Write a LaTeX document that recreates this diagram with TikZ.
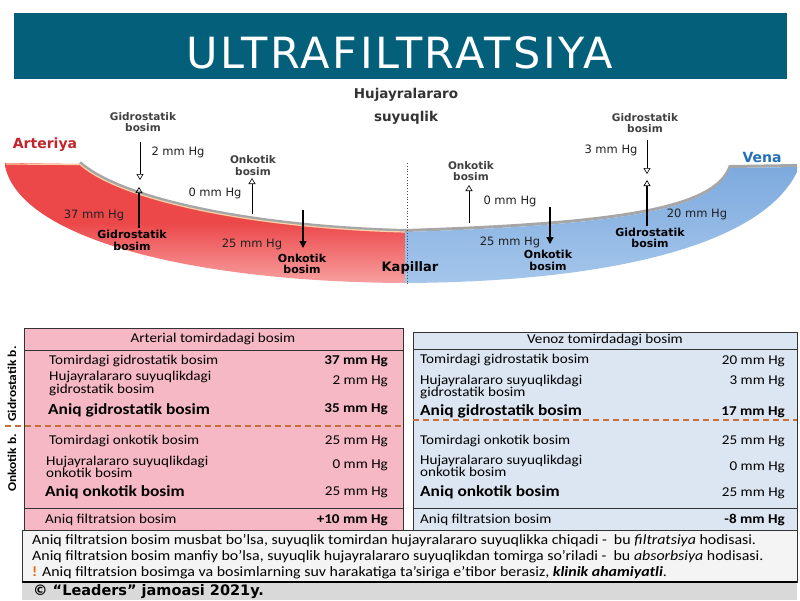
\documentclass[tikz,border=0pt]{standalone}
\usepackage{fontspec}
\setmainfont[FakeStretch=1.12]{Carlito}
\newfontfamily\dvs{DejaVu Sans}
\newfontfamily\ttlfont[LetterSpace=6]{DejaVu Sans}
\usetikzlibrary{arrows.meta}
\definecolor{titlebg}{HTML}{04607A}
\definecolor{pinkbg}{HTML}{F6B8C4}
\definecolor{bluebg}{HTML}{DCE6F2}
\definecolor{dashor}{HTML}{C8703C}
\definecolor{artred}{HTML}{C0262C}
\definecolor{venablue}{HTML}{2470B8}
\definecolor{exclam}{HTML}{E36C0A}
\definecolor{notebg}{HTML}{F4F4F4}
\definecolor{footbg}{HTML}{D9D9D9}
\definecolor{lblgray}{HTML}{202020}
\definecolor{redtop}{RGB}{236,72,74}
\definecolor{redbot}{RGB}{248,160,160}
\definecolor{bluetop}{RGB}{125,170,222}
\definecolor{bluebot}{RGB}{165,198,235}
\begin{document}
\begin{tikzpicture}[x=1pt,y=-1pt,
  lbltop/.style={font=\dvs\bfseries\fontsize{10.5}{11.5}\selectfont, align=center, inner sep=0, text=black!75},
  lblbot/.style={font=\dvs\bfseries\fontsize{11}{11.5}\selectfont, align=center, inner sep=0},
  mmhg/.style={font=\dvs\fontsize{11.5}{12}\selectfont, inner sep=0, text=lblgray},
  hollow/.style={line width=0.6pt, -{Triangle[open, width=7pt, length=6pt]}},
  solidup/.style={line width=1.3pt, -{Triangle[open, width=7pt, length=6pt, line width=0.7pt]}},
  soliddown/.style={line width=1.3pt, -{Triangle[width=7pt, length=7pt]}},
  rowl/.style={anchor=west, inner sep=0, align=left, font=\fontsize{13.5}{12.5}\selectfont},
  rowb/.style={anchor=west, inner sep=0, font=\bfseries\fontsize{15.5}{15}\selectfont},
  valr/.style={anchor=east, inner sep=0, font=\fontsize{13.5}{13}\selectfont},
  valb/.style={anchor=east, inner sep=0, font=\bfseries\fontsize{13.5}{13}\selectfont},
  hdr/.style={inner sep=0, font=\fontsize{13.5}{13}\selectfont},
  frame/.style={draw=black!80, line width=0.9pt},
  dsh/.style={draw=dashor, line width=1.3pt, dash pattern=on 6pt off 4pt},
  note/.style={anchor=west, inner sep=0, font=\fontsize{14.2}{14}\selectfont},
  vlab/.style={rotate=90, inner sep=0, font=\bfseries\fontsize{12}{12}\selectfont},
]
\useasboundingbox (0,0) rectangle (800,600);
\fill[white] (0,0) rectangle (800,600);

% title
\node[fill=titlebg, minimum width=773, minimum height=66, inner sep=0] (bar) at (400,46) {};
\node[text=white, inner sep=0, font=\ttlfont\fontsize{43}{43}\selectfont] (title) at (400,53) {ULTRAFILTRATSIYA};

% vessel shadow
\draw[black!35, line width=3pt, yshift=1.5pt] (80,164) .. controls (120,200) and (250,228) .. (405,232)
   .. controls (620,225) and (715,210) .. (730,168) -- (797,167);
% red artery
\path[top color=redtop, bottom color=redbot, middle color=redtop]
  (5,163) -- (80,164) .. controls (120,200) and (250,228) .. (405,232) -- (405,283)
  .. controls (190,282) and (20,238) .. (5,166) -- cycle;
\draw[orange!35, line width=1.2pt] (6,164) -- (80,164.5) .. controls (120,200) and (250,228) .. (405,232);
% blue vein
\path[top color=bluetop, bottom color=bluebot]
  (405,232) .. controls (620,225) and (715,210) .. (730,168) -- (797,167) -- (797,172)
  .. controls (760,248) and (600,282) .. (405,283) -- cycle;
\draw[black!70, dotted, line width=0.8pt] (407,163) -- (407,284);

% labels
\node[font=\dvs\bfseries\fontsize{14}{14}\selectfont, text=artred, inner sep=0] (art) at (45,145) {Arteriya};
\node[font=\dvs\bfseries\fontsize{14}{14}\selectfont, text=venablue, inner sep=0] (ven) at (762,157) {Vena};
\node[font=\dvs\bfseries\fontsize{13.5}{13.5}\selectfont, text=black!80, inner sep=0] (huj) at (406,95) {Hujayralararo};
\node[font=\dvs\bfseries\fontsize{13.5}{13.5}\selectfont, text=black!80, inner sep=0] (suy) at (406,118) {suyuqlik};
\node[font=\dvs\bfseries\fontsize{13}{13}\selectfont, inner sep=0] (kap) at (410,268) {Kapillar};

% left side
\node[lbltop] (gt1) at (143,122) {Gidrostatik\\bosim};
\node[mmhg] (m2) at (178,152) {2 mm Hg};
\node[lbltop] (ot1) at (253,165.5) {Onkotik\\bosim};
\node[mmhg] (m0a) at (215,193) {0 mm Hg};
\node[mmhg] (m37) at (94,215) {37 mm Hg};
\node[lblbot] (gb1) at (132,240.5) {Gidrostatik\\bosim};
\node[mmhg] (m25a) at (252,244) {25 mm Hg};
\node[lblbot] (ob1) at (302,264) {Onkotik\\bosim};
\coordinate (a1s) at (140,142); \coordinate (a1e) at (140,180);
\coordinate (a2s) at (139,228); \coordinate (a2e) at (139,187);
\coordinate (a3s) at (252,214); \coordinate (a3e) at (252,178);
\coordinate (a4s) at (303,210); \coordinate (a4e) at (303,248);
\draw[hollow] (a1s) -- (a1e);
\draw[solidup] (a2s) -- (a2e);
\draw[hollow] (a3s) -- (a3e);
\draw[soliddown] (a4s) -- (a4e);

% right side
\node[lbltop] (ot2) at (471,171) {Onkotik\\bosim};
\node[mmhg] (m0b) at (510,201) {0 mm Hg};
\node[mmhg] (m25b) at (510,242) {25 mm Hg};
\node[lblbot] (ob2) at (548,260.5) {Onkotik\\bosim};
\node[lbltop] (gt2) at (645,123) {Gidrostatik\\bosim};
\node[mmhg] (m3) at (611,150) {3 mm Hg};
\node[mmhg] (m20) at (697,214) {20 mm Hg};
\node[lblbot] (gb2) at (650,238) {Gidrostatik\\bosim};
\coordinate (b1s) at (469,223); \coordinate (b1e) at (469,185);
\coordinate (b2s) at (550,207); \coordinate (b2e) at (550,244);
\coordinate (b3s) at (647,140); \coordinate (b3e) at (647,174);
\coordinate (b4s) at (647,226); \coordinate (b4e) at (647,180);
\draw[hollow] (b1s) -- (b1e);
\draw[soliddown] (b2s) -- (b2e);
\draw[hollow] (b3s) -- (b3e);
\draw[solidup] (b4s) -- (b4e);

% left table
\draw[frame, fill=pinkbg] (24,328) rectangle (403,530);
\draw[frame] (24,350) -- (403,350);
\draw[frame] (24,508) -- (403,508);
\draw[dsh] (5,426) -- (403,426);
\node[hdr] (lh) at (213,339) {Arterial tomirdadagi bosim};
\node[rowl] (l1) at (49,361) {Tomirdagi gidrostatik bosim};
\node[valb] (l1v) at (388,361) {37 mm Hg};
\node[rowl] (l2) at (49,383.5) {Hujayralararo suyuqlikdagi\\gidrostatik bosim};
\node[valr] (l2v) at (388,381) {2 mm Hg};
\node[rowb] (l3) at (48,410) {Aniq gidrostatik bosim};
\node[valb] (l3v) at (388,409) {35 mm Hg};
\node[rowl] (l4) at (49,441) {Tomirdagi onkotik bosim};
\node[valr] (l4v) at (388,441) {25 mm Hg};
\node[rowl] (l5) at (46,467) {Hujayralararo suyuqlikdagi\\onkotik bosim};
\node[valr] (l5v) at (388,465) {0 mm Hg};
\node[rowb] (l6) at (45,492) {Aniq onkotik bosim};
\node[valr] (l6v) at (388,492) {25 mm Hg};
\node[rowl] (l7) at (45,520) {Aniq filtratsion bosim};
\node[valb] (l7v) at (388,520) {+10 mm Hg};
\node[vlab] (vg) at (12,384) {Gidrostatik b.};
\node[vlab] (vo) at (12,463) {Onkotik b.};

% right table
\draw[frame, fill=bluebg] (413,332) rectangle (797,530);
\draw[frame] (413,349) -- (797,349);
\draw[frame] (413,508) -- (797,508);
\draw[dsh] (413,420) -- (797,420);
\node[hdr] (rh) at (605,340) {Venoz tomirdadagi bosim};
\node[rowl] (r1) at (420,360) {Tomirdagi gidrostatik bosim};
\node[valr] (r1v) at (785,361) {20 mm Hg};
\node[rowl] (r2) at (420,387) {Hujayralararo suyuqlikdagi\\gidrostatik bosim};
\node[valr] (r2v) at (785,381) {3 mm Hg};
\node[rowb] (r3) at (420,411) {Aniq gidrostatik bosim};
\node[valb] (r3v) at (785,412) {17 mm Hg};
\node[rowl] (r4) at (420,441) {Tomirdagi onkotik bosim};
\node[valr] (r4v) at (785,441) {25 mm Hg};
\node[rowl] (r5) at (420,466) {Hujayralararo suyuqlikdagi\\onkotik bosim};
\node[valr] (r5v) at (785,467) {0 mm Hg};
\node[rowb] (r6) at (420,492) {Aniq onkotik bosim};
\node[valr] (r6v) at (785,493) {25 mm Hg};
\node[rowl] (r7) at (420,520) {Aniq filtratsion bosim};
\node[valb] (r7v) at (785,520) {-8 mm Hg};

% notes
\draw[frame, fill=notebg] (22,530) rectangle (797,582);
\node[note] (n1) at (32,541) {Aniq filtratsion bosim musbat bo’lsa, suyuqlik tomirdan hujayralararo suyuqlikka chiqadi -\enspace bu \textit{filtratsiya} hodisasi.};
\node[note] (n2) at (32,557) {Aniq filtratsion bosim manfiy bo’lsa, suyuqlik hujayralararo suyuqlikdan tomirga so’riladi -\enspace bu \textit{absorbsiya} hodisasi.};
\node[note] (n3) at (32,573) {\textcolor{exclam}{\textbf{!}} Aniq filtratsion bosimga va bosimlarning suv harakatiga ta’siriga e’tibor berasiz, \textbf{\textit{klinik ahamiyatli}}.};
\fill[footbg] (22,582) rectangle (797,600);
\draw[black, line width=1.6pt] (22,582) -- (797,582);
\node[anchor=west, inner sep=0, font=\dvs\bfseries\fontsize{14.5}{14.5}\selectfont] (foot) at (33,591.5) {© “Leaders” jamoasi 2021y.};
\end{tikzpicture}
\end{document}
